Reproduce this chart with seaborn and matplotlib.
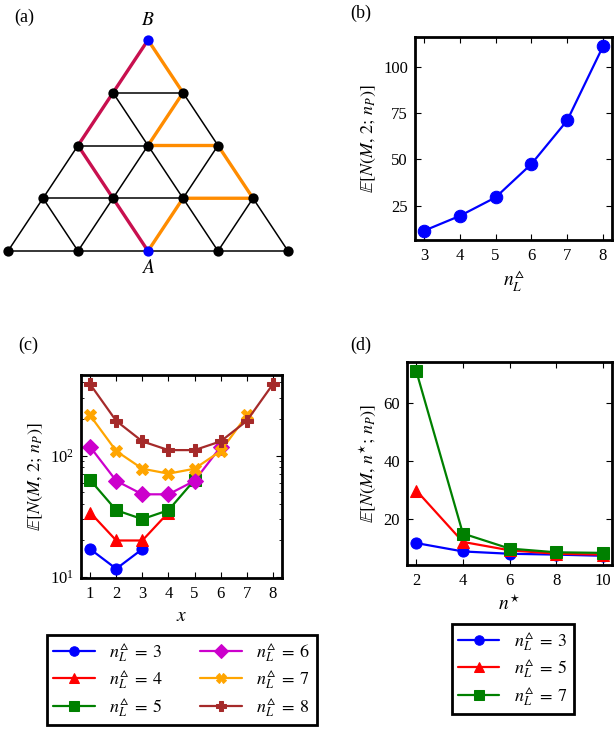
#!/usr/bin/env python3
import numpy as np
import matplotlib
matplotlib.use("Agg")
import matplotlib.pyplot as plt
import seaborn as sns

# ---- data ----
# (a) triangular lattice with 5 nodes on the bottom row
n_rows = 5
node_A = (2.0, 0)
node_B = (2.0, 4)
path_crimson = [(2.0, 4), (1.5, 3), (1.0, 2), (1.5, 1), (2.0, 0)]
path_orange = [(2.0, 4), (2.5, 3), (2.0, 2), (3.0, 2), (3.5, 1), (2.5, 1), (2.0, 0)]

# (b)
nL_b = [3, 4, 5, 6, 7, 8]
EN_b = [11.5, 19.5, 29.5, 47.5, 71, 111]

# (c)
c_series = {
    3: [17, 11.7, 17],
    4: [34, 20, 20, 34],
    5: [63, 35.5, 30, 35.5, 63],
    6: [118, 62, 48, 48, 62, 118],
    7: [214, 109, 78, 71, 78, 109, 214],
    8: [387, 193, 131, 111, 111, 131, 193, 387],
}

# (d)
nstar = [2, 4, 6, 8, 10]
d_series = {
    3: [11.5, 8.6, 7.8, 7.5, 7.1],
    5: [29.7, 11.9, 9.0, 7.8, 7.5],
    7: [71, 14.8, 9.6, 8.3, 8.1],
}

colors_c = {3: "#0000ff", 4: "#ff0000", 5: "#008000", 6: "#cc00cc", 7: "#ffa500", 8: "#a52a2a"}
markers_c = {3: "o", 4: "^", 5: "s", 6: "D", 7: "X", 8: "P"}
colors_d = {3: "#0000ff", 5: "#ff0000", 7: "#008000"}
markers_d = {3: "o", 5: "^", 7: "s"}

sns.set_style("ticks")
plt.rcParams["font.family"] = "serif"
plt.rcParams["font.serif"] = ["Liberation Serif", "DejaVu Serif"]
plt.rcParams["mathtext.fontset"] = "stix"
plt.rcParams["font.size"] = 12
plt.rcParams["text.color"] = "black"
plt.rcParams["axes.labelcolor"] = "black"
plt.rcParams["axes.edgecolor"] = "black"
plt.rcParams["xtick.color"] = "black"
plt.rcParams["ytick.color"] = "black"
plt.rcParams["axes.linewidth"] = 2.0
plt.rcParams["xtick.direction"] = "in"
plt.rcParams["ytick.direction"] = "in"
plt.rcParams["xtick.top"] = True
plt.rcParams["ytick.right"] = True
plt.rcParams["xtick.major.size"] = 4.5
plt.rcParams["ytick.major.size"] = 4.5
plt.rcParams["xtick.minor.size"] = 2.5
plt.rcParams["ytick.minor.size"] = 2.5
plt.rcParams["xtick.major.pad"] = 6
plt.rcParams["ytick.major.pad"] = 5
plt.rcParams["xtick.labelsize"] = 12
plt.rcParams["ytick.labelsize"] = 12

TRI = r"\vartriangle"
YLAB_2 = r"$\mathbb{E}[N(M,\,2;\,n_P)]$"
YLAB_STAR = r"$\mathbb{E}[N(M,\,n^{\star};\,n_P)]$"

fig = plt.figure(figsize=(6.15, 7.3), dpi=100)

def rect(l, t, r, b):
    W, H = 615.0, 730.0
    return [l / W, 1 - b / H, (r - l) / W, (b - t) / H]

def leg_label(n):
    return r"$n_L^{%s}\;=\;%d$" % (TRI, n)

# ---- (a) lattice ----
axa = fig.add_axes(rect(0, 0, 300, 290))
pos = {}
for k in range(n_rows):
    for i in range(n_rows - k):
        pos[(k, i)] = (i + 0.5 * k, k)
edges = []
for (k, i), p in pos.items():
    for q in [(k, i + 1), (k + 1, i), (k + 1, i - 1)]:
        if q in pos:
            edges.append((p, pos[q]))
for p, q in edges:
    axa.plot([p[0], q[0]], [p[1], q[1]], color="black", lw=1.1, zorder=1)
px, py = zip(*path_crimson)
axa.plot(px, py, color="#c8104f", lw=2.4, solid_capstyle="round", zorder=2)
px, py = zip(*path_orange)
axa.plot(px, py, color="#ff8c00", lw=2.4, solid_capstyle="round", zorder=2)
nx, ny = zip(*[p for p in pos.values() if p not in (node_A, node_B)])
axa.scatter(nx, ny, s=55, color="black", zorder=3, linewidths=0)
axa.scatter([node_A[0], node_B[0]], [node_A[1], node_B[1]], s=55, color="#0000ff",
            zorder=4, linewidths=0)
axa.text(node_B[0], node_B[1] + 0.2, "$B$", ha="center", va="bottom", fontsize=14)
axa.text(node_A[0], node_A[1] - 0.15, "$A$", ha="center", va="top", fontsize=14)
axa.set_xlim(-8 / 70, 292 / 70)
axa.set_ylim(-39 / 52.75, 251 / 52.75)
axa.axis("off")
fig.text(24 / 615, 1 - 17 / 730, "(a)", ha="center", va="center", fontsize=13)

# ---- (b) ----
axb = fig.add_axes(rect(415, 37, 612, 240))
sns.lineplot(x=nL_b, y=EN_b, ax=axb, color="#0000ff", marker="o", markersize=9,
             markeredgecolor="#0000ff", lw=1.6)
axb.set_xticks([3, 4, 5, 6, 7, 8])
axb.set_yticks([25, 50, 75, 100])
axb.set_xlabel(r"$n_L^{%s}$" % TRI, fontsize=14)
axb.set_ylabel(YLAB_2, fontsize=13)
fig.text(361 / 615, 1 - 13 / 730, "(b)", ha="center", va="center", fontsize=13)

# ---- (c) ----
axc = fig.add_axes(rect(81, 375, 282, 578))
for n, vals in c_series.items():
    xs = list(range(1, len(vals) + 1))
    sns.lineplot(x=xs, y=vals, ax=axc, color=colors_c[n], marker=markers_c[n],
                 markersize=8, markeredgecolor=colors_c[n], lw=1.6,
                 label=leg_label(n))
axc.set_yscale("log")
axc.set_xticks(range(1, 9))
axc.set_xlabel(r"$x$", fontsize=14)
axc.set_ylabel(YLAB_2, fontsize=13)
h, l = axc.get_legend_handles_labels()
axc.get_legend().remove()
leg = fig.legend(h, l, ncol=2, loc="center", bbox_to_anchor=(182 / 615, 1 - 680 / 730),
                 fontsize=13, frameon=True, fancybox=False, edgecolor="black",
                 framealpha=1, markerscale=0.85, handlelength=2.3, handletextpad=0.8,
                 columnspacing=2.0, labelspacing=0.25, borderpad=0.35)
leg.get_frame().set_linewidth(2.0)
fig.text(28 / 615, 1 - 345 / 730, "(c)", ha="center", va="center", fontsize=13)

# ---- (d) ----
axd = fig.add_axes(rect(407, 362, 612, 565))
for n, vals in d_series.items():
    sns.lineplot(x=nstar, y=vals, ax=axd, color=colors_d[n], marker=markers_d[n],
                 markersize=8, markeredgecolor=colors_d[n], lw=1.6,
                 label=leg_label(n))
axd.set_xticks(nstar)
axd.set_yticks([20, 40, 60])
axd.set_xlabel(r"$n^{\star}$", fontsize=14)
axd.set_ylabel(YLAB_STAR, fontsize=13)
h, l = axd.get_legend_handles_labels()
axd.get_legend().remove()
leg = fig.legend(h, l, ncol=1, loc="center", bbox_to_anchor=(513 / 615, 1 - 669 / 730),
                 fontsize=13, frameon=True, fancybox=False, edgecolor="black",
                 framealpha=1, markerscale=0.85, handlelength=2.3, handletextpad=0.8,
                 labelspacing=0.25, borderpad=0.35)
leg.get_frame().set_linewidth(2.0)
fig.text(361 / 615, 1 - 345 / 730, "(d)", ha="center", va="center", fontsize=13)

fig.savefig("out.png", dpi=100)
